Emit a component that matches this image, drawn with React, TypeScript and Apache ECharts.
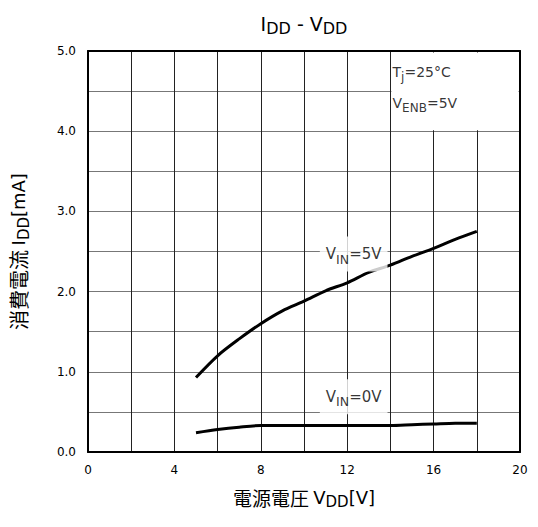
import React, { useEffect, useRef } from "react";
import * as echarts from "echarts";

const vddValues = [5, 6, 7, 8, 9, 10, 11, 12, 13, 14, 15, 16, 17, 18];
const iddVin5 = [0.93, 1.2, 1.41, 1.6, 1.76, 1.88, 2.01, 2.11, 2.24, 2.33, 2.44, 2.54, 2.65, 2.75];
const iddVin0 = [0.24, 0.28, 0.31, 0.33, 0.33, 0.33, 0.33, 0.33, 0.33, 0.33, 0.34, 0.35, 0.36, 0.36];
const noteBox = [[14, 4, 20, 5]];

const FONT = "'DejaVu Sans', 'Noto Sans CJK JP', sans-serif";
const CJK = "'Noto Sans CJK JP', sans-serif";

const richBase = (size: number, sub: number, drop = 4, cjk = size + 1) => ({
  n: { fontSize: size, fontFamily: FONT, fontWeight: "normal", color: "#000", lineHeight: size + 2 * drop, verticalAlign: "middle" },
  s: { fontSize: sub, fontFamily: FONT, fontWeight: "normal", color: "#000", lineHeight: sub, verticalAlign: "bottom" },
  c: { fontSize: cjk, fontFamily: CJK, fontWeight: "normal", color: "#000", lineHeight: size + 2 * drop, verticalAlign: "middle" },
});

export default function App() {
  const ref = useRef<HTMLDivElement>(null);
  useEffect(() => {
    document.body.style.margin = "0";
    if (!ref.current) return;
    const chart = echarts.init(ref.current, null, { renderer: "svg" });
    const pair = (ys: number[]) => vddValues.map((x, i) => [x, ys[i]]);
    const labelSeries = (name: string, x: number, y: number, text: string, opts: any) => ({
      type: "scatter",
      name,
      data: [[x, y]],
      symbolSize: 0,
      silent: true,
      z: 30,
      label: { show: true, formatter: text, rich: richBase(15, 12.5), ...opts },
    });
    chart.setOption({
      animation: false,
      backgroundColor: "#fff",
      title: {
        text: "{n|I}{s|DD}{n| - V}{s|DD}",
        left: 299,
        textAlign: "center",
        top: 5,
        textStyle: { rich: richBase(19, 16) },
      },
      grid: { left: 88, right: 18, top: 51, bottom: 75, containLabel: false },
      xAxis: [
        {
          type: "value",
          z: 0,
          min: 0,
          max: 20,
          interval: 2,
          name: "{c|電源電圧 }{n|V}{s|DD}{n|[V]}",
          nameLocation: "middle",
          nameGap: 32,
          nameTextStyle: { rich: richBase(18, 15, 4, 19) },
          axisLine: { show: true, lineStyle: { color: "#000", width: 2 } },
          axisTick: { show: false },
          axisLabel: {
            margin: 12,
            fontSize: 12,
            fontFamily: FONT,
            color: "#000",
            formatter: (v: number) => (v % 4 === 0 ? String(v) : ""),
          },
          splitLine: { show: true, showMinLine: false, showMaxLine: false, lineStyle: { color: "#222", width: 1 } },
        },
        {
          type: "value",
          z: 40,
          position: "top",
          min: 0,
          max: 20,
          axisLine: { show: true, onZero: false, lineStyle: { color: "#000", width: 2 } },
          axisTick: { show: false },
          axisLabel: { show: false },
          splitLine: { show: false },
        },
      ],
      yAxis: [
        {
          type: "value",
          z: 0,
          min: 0,
          max: 5,
          interval: 0.5,
          name: "{c|消費電流 }{n|I}{s|DD}{n|[mA]}",
          nameLocation: "middle",
          nameRotate: 90,
          nameGap: 57,
          nameTextStyle: { rich: richBase(18, 15, 4, 20) },
          axisLine: { show: true, lineStyle: { color: "#000", width: 2 } },
          axisTick: { show: false },
          axisLabel: {
            margin: 12,
            fontSize: 12,
            fontFamily: FONT,
            color: "#000",
            formatter: (v: number) => (Math.abs(v - Math.round(v)) < 1e-6 ? v.toFixed(1) : ""),
          },
          splitLine: { show: true, showMinLine: false, showMaxLine: false, lineStyle: { color: "#777", width: 1 } },
        },
        {
          type: "value",
          z: 40,
          position: "right",
          min: 0,
          max: 5,
          axisLine: { show: true, onZero: false, lineStyle: { color: "#000", width: 2 } },
          axisTick: { show: false },
          axisLabel: { show: false },
          splitLine: { show: false },
        },
      ],
      series: [
        {
          type: "custom",
          name: "noteBox",
          silent: true,
          z: 20,
          clip: false,
          data: noteBox,
          encode: { x: [0, 2], y: [1, 3] },
          renderItem: (params: any, api: any) => {
            const p1 = api.coord([api.value(0), api.value(3)]);
            const p2 = api.coord([api.value(2), api.value(1)]);
            return {
              type: "rect",
              z2: 100,
              shape: { x: p1[0] + 1, y: p1[1] + 1.5, width: p2[0] - p1[0] - 2.5, height: p2[1] - p1[1] - 2.5 },
              style: { fill: "#fff", stroke: null },
            };
          },
        },
        {
          type: "line",
          name: "VIN=5V",
          data: pair(iddVin5),
          showSymbol: false,
          smooth: 0.3,
          lineStyle: { color: "#000", width: 3 },
          z: 10,
        },
        {
          type: "line",
          name: "VIN=0V",
          data: pair(iddVin0),
          showSymbol: false,
          smooth: 0.3,
          lineStyle: { color: "#000", width: 3 },
          z: 10,
        },
        labelSeries("lbl5", 12.3, 2.47, "{n|V}{s|IN}{n|=5V}", {
          position: "inside",
          backgroundColor: "#fff",
          padding: [6, 6, 6, 6],
        }),
        labelSeries("lbl0", 12.3, 0.69, "{n|V}{s|IN}{n|=0V}", {
          position: "inside",
          backgroundColor: "#fff",
          padding: [6, 6, 6, 6],
        }),
        labelSeries("tj", 14.1, 4.74, "{n|T}{s|j}{n|=25°C}", {
          position: "right",
          distance: 0,
          rich: richBase(14, 12),
        }),
        labelSeries("venb", 14.1, 4.35, "{n|V}{s|ENB}{n|=5V}", {
          position: "right",
          distance: 0,
          rich: richBase(14, 12),
        }),
      ],
    });
    return () => chart.dispose();
  }, []);
  return <div ref={ref} style={{ width: 538, height: 527 }} />;
}
